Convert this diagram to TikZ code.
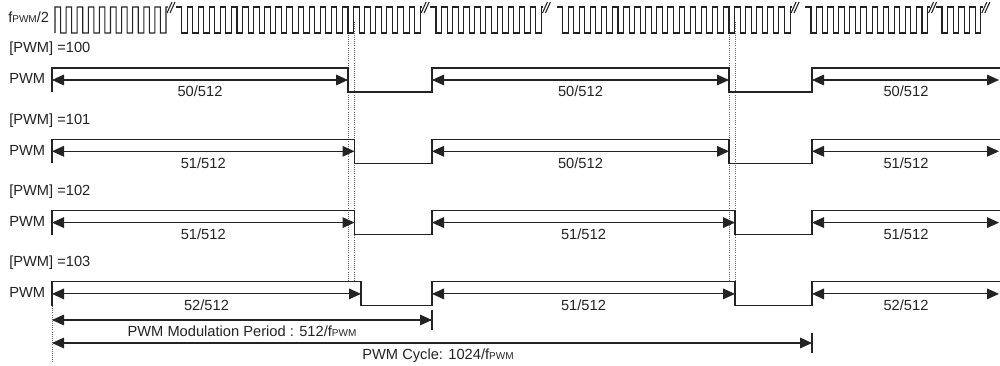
\documentclass[tikz,border=0pt]{standalone}
\usepackage{fontspec}
\setmainfont{Liberation Sans}
\usetikzlibrary{arrows.meta}
\definecolor{L}{RGB}{35, 35, 35}
\definecolor{D}{RGB}{100, 100, 100}
\newcommand{\fpwm}{f{\fontsize{7.5}{8}\selectfont PWM}}

\begin{document}
\begin{tikzpicture}[x=0.75pt,y=-0.75pt,
	wave/.style={draw=L,line width=0.9pt},
	clk/.style={draw=L,line width=0.8pt},
	dim/.style={draw=L,line width=0.8pt,{Triangle[length=9pt,width=8pt]}-{Triangle[length=9pt,width=8pt]}},
	guia/.style={draw=D,line width=0.6pt,densely dotted},
	txt/.style={font=\fontsize{11}{13}\selectfont,inner sep=0pt,text=L}]
	\useasboundingbox (0,0) rectangle (1000,366);

	% Lineas guia punteadas
	\draw[guia] (348,22) -- (348,282);
	\draw[guia] (354,22) -- (354,282);
	\draw[guia] (729,22) -- (729,282);
	\draw[guia] (735,22) -- (735,282);
	\draw[guia] (52,306) -- (52,362);

	% Reloj fPWM/2
	\node[txt,anchor=base west] (fclk) at (8,23) {\fpwm/2};
	\draw[clk] (55,33) \foreach \i in {0,...,9} { -- ({55+\i*11.1},7) -- ({60.55+\i*11.1},7) -- ({60.55+\i*11.1},33) -- ({66.1+\i*11.1},33) } -- (166,7) -- (168,7);
	\draw[clk] (167,13) -- (172,2) (170,13) -- (175,2);
	%Cada tramo: primera bajada / numero de pulsos
	\foreach \xf/\n in {181.5/21, 436/9, 562.5/20, 811/10, 942/3} {
		\pgfmathsetmacro\xr{\xf+5.55+\n*11.1}
		\draw[clk] (\xf-6,7) -- (\xf,7) -- (\xf,33)
			\foreach \i in {1,...,\n} { -- ({\xf+\i*11.1-5.55},33) -- ({\xf+\i*11.1-5.55},7) -- ({\xf+\i*11.1},7) -- ({\xf+\i*11.1},33) }
			-- (\xr,33) -- (\xr,7) -- (\xr+2,7);
		\draw[clk] (\xr+1,13) -- (\xr+6,2) (\xr+4,13) -- (\xr+9,2);
	}

	% Senales PWM
	\foreach \r/\v/\fa/\fb/\ta/\tb/\tc in {0/100/348/729/50/50/50, 1/101/354.5/729/51/50/51, 2/102/354.5/735/51/51/51, 3/103/361/735/52/51/52} {
		\pgfmathsetmacro\hy{68+71.3*\r}
		\node[txt,anchor=base west] (val\r) at (9,\hy-15) {[PWM] =\v};
		\node[txt,anchor=base west] (pwm\r) at (9,\hy+16) {PWM};
		\draw[wave] (52,\hy+24) -- (52,\hy) -- (\fa,\hy) -- (\fa,\hy+24) -- (432,\hy+24) -- (432,\hy) -- (\fb,\hy) -- (\fb,\hy+24) -- (812,\hy+24) -- (812,\hy) -- (1000,\hy);
		\draw[dim] (52,\hy+12) -- (\fa,\hy+12);
		\draw[dim] (432,\hy+12) -- (\fb,\hy+12);
		\draw[dim] (812,\hy+12) -- (999,\hy+12);
		\node[txt,anchor=base] (ta\r) at ({(52+\fa)/2},\hy+29) {\ta/512};
		\node[txt,anchor=base] (tb\r) at ({(432+\fb)/2},\hy+29) {\tb/512};
		\node[txt,anchor=base] (tc\r) at (906,\hy+29) {\tc/512};
	}

	% Periodos
	\coordinate (m0) at (52,320);
	\coordinate (m1) at (432,320);
	\coordinate (c0) at (52,343);
	\coordinate (c1) at (812,343);
	\draw[clk] (432,310) -- (432,330);
	\draw[clk] (812,333) -- (812,353);
	\draw[dim] (m0) -- (m1);
	\draw[dim] (c0) -- (c1);
	\node[txt,anchor=base] (mod) at (242,337) {PWM Modulation Period : 512/\fpwm};
	\node[txt,anchor=base] (cyc) at (438,360) {PWM Cycle: 1024/\fpwm};
\end{tikzpicture}
\end{document}
